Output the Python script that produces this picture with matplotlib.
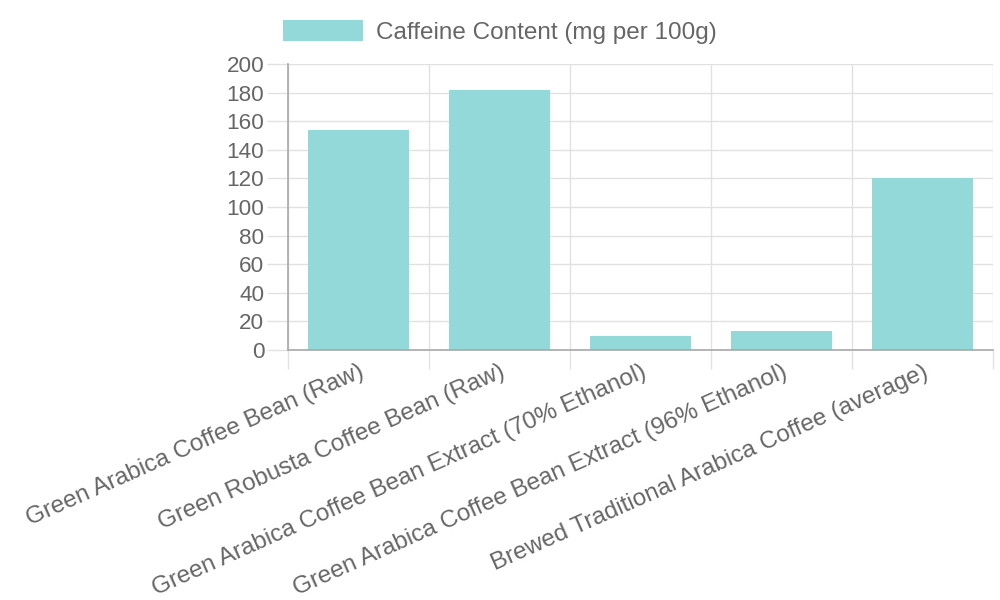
import matplotlib.pyplot as plt
import numpy as np

# data
categories = [
    "Green Arabica Coffee Bean (Raw)",
    "Green Robusta Coffee Bean (Raw)",
    "Green Arabica Coffee Bean Extract (70% Ethanol)",
    "Green Arabica Coffee Bean Extract (96% Ethanol)",
    "Brewed Traditional Arabica Coffee (average)",
]
caffeine = [154, 182, 10, 13, 120]
series_label = "Caffeine Content (mg per 100g)"
y_ticks = [0, 20, 40, 60, 80, 100, 120, 140, 160, 180, 200]

plt.rcParams['font.family'] = ['Liberation Sans', 'DejaVu Sans']
text_col = '#666666'
grid_col = '#e1e1e1'
bar_col = '#93d9d9'

fig = plt.figure(figsize=(10, 6), dpi=100)
ax = fig.add_axes([0.288, 1 - 350 / 600, 0.705, 286 / 600])

x = np.arange(len(categories))
bars = ax.bar(x, caffeine, width=0.72, color=bar_col, label=series_label, zorder=3)

ax.set_xlim(-0.5, len(categories) - 0.5)
ax.set_ylim(0, 200)
ax.set_yticks(y_ticks)
ax.set_yticklabels([str(v) for v in y_ticks])

ax.set_xticks(x)
ax.set_xticklabels(categories, rotation=24, ha='right', va='top', rotation_mode='anchor')
ax.set_xticks(np.arange(-0.5, len(categories)), minor=True)

ax.tick_params(axis='x', which='major', length=0, pad=8, labelsize=17.5, labelcolor=text_col)
ax.tick_params(axis='x', which='minor', length=14, width=1, color=grid_col)
ax.tick_params(axis='y', length=15, width=1, color=grid_col, pad=2, labelsize=16.2, labelcolor=text_col)

ax.grid(axis='y', color=grid_col, linewidth=1, zorder=0)
ax.grid(axis='x', which='minor', color=grid_col, linewidth=1, zorder=0)
ax.grid(axis='x', which='major', visible=False)

for s in ['top', 'right']:
    ax.spines[s].set_visible(False)
for s in ['left', 'bottom']:
    ax.spines[s].set_color('#a8a8a8')
    ax.spines[s].set_linewidth(1.2)
    ax.spines[s].set_zorder(4)

fig.legend(handles=[bars], labels=[series_label], loc='upper center',
           bbox_to_anchor=(0.5, 1.003), frameon=False, fontsize=17.5,
           handlelength=3.3, handleheight=0.95, handletextpad=0.55,
           labelcolor=text_col)

fig.savefig('out.png', dpi=100)
